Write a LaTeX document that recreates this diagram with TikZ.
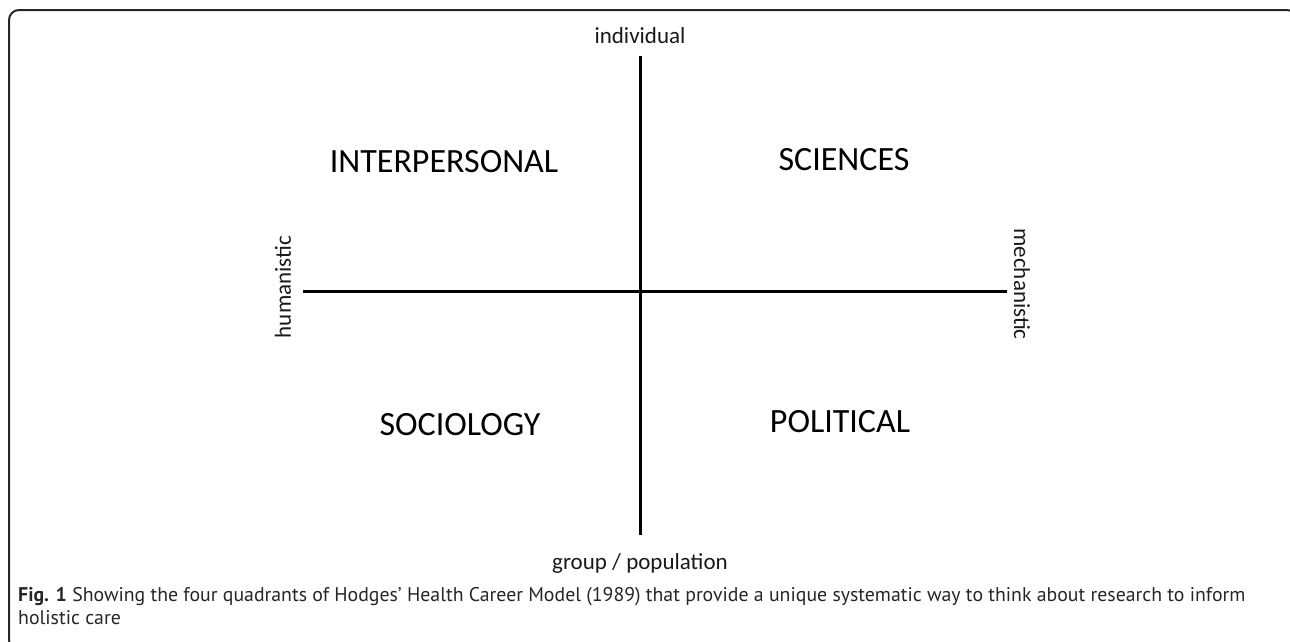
\documentclass[tikz,border=0pt]{standalone}
\usepackage{fontspec}
\setmainfont{Carlito}
\newfontfamily\capfont{PT Sans}
\begin{document}
\begin{tikzpicture}[x=1pt,y=-1pt,
  quad/.style={font=\fontsize{34}{40}\selectfont, text=black, inner sep=0pt},
  axlabel/.style={font=\fontsize{23}{27}\selectfont, text=black!90, inner sep=0pt},
  axis/.style={line width=3pt, draw=black},
  frame/.style={line width=2pt, draw=black!85},
  captext/.style={font=\capfont\fontsize{19.8}{23}\selectfont, text=black!85, inner sep=0pt, anchor=base west}]
\useasboundingbox (0,0) rectangle (1290,641);
\clip (0,0) rectangle (1290,641);
% frame
\draw[frame, rounded corners=10pt] (1297,22) |- (9,10) |- (22,650);
% axis end points
\coordinate (top) at (640,56);
\coordinate (bot) at (640,535);
\coordinate (lft) at (303,291);
\coordinate (rgt) at (1007,291);
\draw[axis] (top) -- (bot);
\draw[axis] (lft) -- (rgt);
% axis labels
\node[axlabel] (ind) at (640,36) {individual};
\node[axlabel] (grp) at (640,563) {group / population};
\node[axlabel, rotate=90] (hum) at (283,287) {humanistic};
\node[axlabel, rotate=-90] (mec) at (1022,284) {mechanistic};
% quadrant labels
\node[quad] (inter) at (444,162) {INTERPERSONAL};
\node[quad] (sci) at (844,160) {SCIENCES};
\node[quad] (soc) at (460,425) {SOCIOLOGY};
\node[quad] (pol) at (840,422) {POLITICAL};
% caption
\node[captext] (cap1) at (18,601) {\textbf{Fig. 1} Showing the four quadrants of Hodges’ Health Career Model (1989) that provide a unique systematic way to think about research to inform};
\node[captext] (cap2) at (18,624) {holistic care};
\end{tikzpicture}
\end{document}
